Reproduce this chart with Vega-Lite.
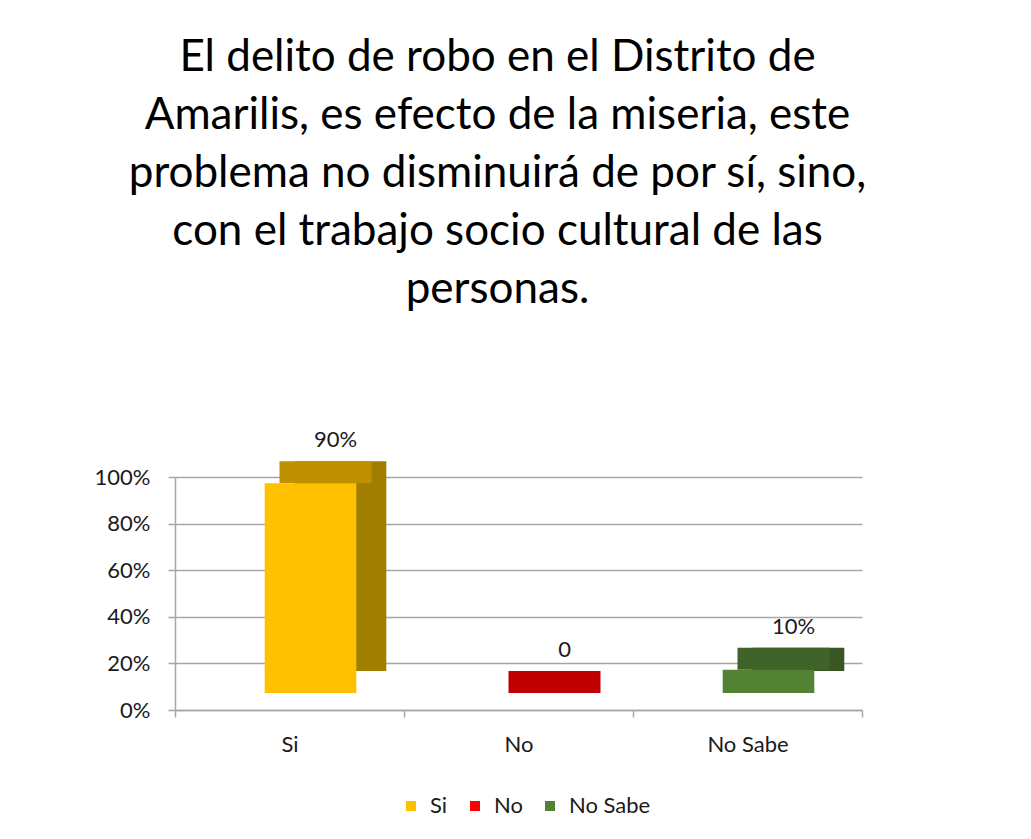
{
  "$schema": "https://vega.github.io/schema/vega-lite/v6.json",
  "autosize": {"type": "none"},
  "width": 687,
  "height": 233,
  "padding": {"left": 175, "top": 477, "right": 169, "bottom": 129},
  "background": "white",
  "title": {
    "text": [
      "El delito de robo en el Distrito de",
      "Amarilis, es efecto de la miseria, este",
      "problema no disminuirá de por sí, sino,",
      "con el trabajo socio cultural de las",
      "personas."
    ],
    "font": "Lato",
    "fontSize": 44,
    "fontWeight": "normal",
    "color": "#000000",
    "lineHeight": 58,
    "anchor": "middle",
    "dx": -21,
    "offset": 117
  },
  "data": {
    "values": [
      {"respuesta": "Si", "porcentaje": 0.9, "etiqueta": "90%"},
      {"respuesta": "No", "porcentaje": 0.0, "etiqueta": "0"},
      {"respuesta": "No Sabe", "porcentaje": 0.1, "etiqueta": "10%"}
    ]
  },
  "encoding": {
    "x": {
      "field": "respuesta",
      "type": "nominal",
      "sort": ["Si", "No", "No Sabe"],
      "scale": {"paddingInner": 0, "paddingOuter": 0},
      "axis": {
        "title": null,
        "labelAngle": 0,
        "labelFont": "Lato",
        "labelFontSize": 22,
        "labelColor": "#1a1a1a",
        "labelPadding": 17,
        "tickBand": "extent",
        "tickSize": 7,
        "tickColor": "#a6a6a6",
        "domainColor": "#a6a6a6",
        "domainWidth": 1.5,
        "tickWidth": 1.5,
        "grid": false
      }
    },
    "y": {
      "field": "porcentaje",
      "type": "quantitative",
      "scale": {"domain": [0, 1]},
      "axis": {
        "title": null,
        "format": ".0%",
        "values": [0, 0.2, 0.4, 0.6, 0.8, 1],
        "labelFont": "Lato",
        "labelFontSize": 22,
        "labelColor": "#1a1a1a",
        "labelPadding": 18,
        "tickSize": 7,
        "tickColor": "#a6a6a6",
        "tickWidth": 1.5,
        "domainColor": "#a6a6a6",
        "domainWidth": 1.5,
        "grid": true,
        "gridColor": "#a6a6a6",
        "gridWidth": 1.5
      }
    }
  },
  "layer": [
    {
      "mark": {"type": "bar", "width": {"band": 0.4}, "xOffset": 51, "yOffset": -39},
      "encoding": {
        "color": {
          "field": "respuesta",
          "type": "nominal",
          "scale": {"domain": ["Si", "No", "No Sabe"], "range": ["#a07f00", "#c00000", "#375623"]},
          "legend": null
        }
      }
    },
    {
      "mark": {"type": "tick", "thickness": 22, "xOffset": 36, "yOffset": -28, "opacity": 1},
      "encoding": {
        "size": {"value": 92},
        "color": {
          "field": "respuesta",
          "type": "nominal",
          "scale": {"domain": ["Si", "No", "No Sabe"], "range": ["#bf9000", "#c00000", "#3f6328"]},
          "legend": null
        }
      }
    },
    {
      "mark": {"type": "bar", "width": {"band": 0.4}, "xOffset": 21, "yOffset": -17},
      "encoding": {
        "color": {
          "field": "respuesta",
          "type": "nominal",
          "sort": ["Si", "No", "No Sabe"],
          "scale": {"domain": ["Si", "No", "No Sabe"], "range": ["#ffc000", "#ff0000", "#548235"]},
          "legend": {
            "title": null,
            "orient": "none",
            "direction": "horizontal",
            "legendX": 225,
            "legendY": 318,
            "symbolType": "square",
            "symbolSize": 100,
            "symbolStrokeWidth": 0,
            "labelFont": "Lato",
            "labelFontSize": 22,
            "labelColor": "#1a1a1a",
            "columnPadding": 16,
            "labelOffset": 8
          }
        }
      }
    },
    {
      "mark": {"type": "text", "font": "Lato", "fontSize": 22, "color": "#1a1a1a", "dy": -60, "dx": 46},
      "encoding": {"text": {"field": "etiqueta"}}
    }
  ],
  "resolve": {"scale": {"color": "independent"}},
  "config": {"view": {"stroke": null}}
}
